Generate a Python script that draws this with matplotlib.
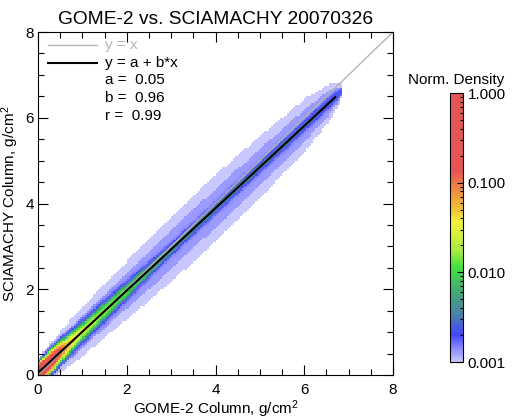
import numpy as np
import matplotlib
matplotlib.use("Agg")
import matplotlib.pyplot as plt
from matplotlib.colors import LinearSegmentedColormap, LogNorm

plt.rcParams['font.family'] = ['Liberation Sans', 'DejaVu Sans']

# fit parameters shown in the legend
fit_a = 0.05
fit_b = 0.96
fit_r = 0.99
fit_xmax = 6.7

# density along the fit line
prof_x = [0.0, 0.2, 0.4, 0.6, 0.8, 1.0, 1.5, 2.0, 2.5, 3.0, 3.5, 4.0, 5.0, 6.0, 6.6, 6.85]
core_peak = [1.0, 0.6, 0.25, 0.08, 0.04, 0.025, 0.015, 0.011, 0.006, 0.004, 0.003, 0.0028, 0.0025, 0.002, 0.0015, 0.001]
core_width = [0.07, 0.09, 0.1, 0.1, 0.1, 0.1, 0.1, 0.09, 0.08, 0.07, 0.07, 0.07, 0.07, 0.07, 0.07, 0.05]
# half-widths of the inner (denser) and outer (sparse) lavender cloud round the line
inner_hw = [0.2, 0.28, 0.32, 0.35, 0.38, 0.38, 0.4, 0.42, 0.45, 0.45, 0.45, 0.45, 0.42, 0.38, 0.28, 0.1]
outer_hw = [0.3, 0.4, 0.45, 0.5, 0.55, 0.58, 0.62, 0.68, 0.72, 0.75, 0.78, 0.78, 0.72, 0.62, 0.42, 0.15]
inner_level = 0.0013
outer_level = 0.001

bin_size = 0.05

# colour table (position on log scale, colour)
cmap_pos = [0.0, 0.1, 0.175, 0.25, 0.35, 0.42, 0.52, 0.58, 0.65, 0.71, 1.0]
cmap_col = ['#c8c8ff', '#4646ff', '#4a82a8', '#44a47c', '#44e044', '#b0ec40',
            '#f2f040', '#f2b834', '#f08444', '#e65454', '#e45656']

# build the 2D density grid
edges = np.arange(0, 8 + bin_size / 2, bin_size)
xc = (edges[:-1] + edges[1:]) / 2
X, Y = np.meshgrid(xc, xc)
d = np.abs(Y - (fit_a + fit_b * X))
pk = np.interp(X, prof_x, core_peak, right=0)
cw = np.interp(X, prof_x, core_width)
ihw = np.interp(X, prof_x, inner_hw, right=0)
ohw = np.interp(X, prof_x, outer_hw, right=0)
halo = np.where(d < ihw, inner_level, np.where(d < ohw, outer_level, 0))
dens = pk * np.exp(-0.5 * (d / cw) ** 2) + halo
dens = np.ma.masked_where(dens < 0.001, dens)

cmap = LinearSegmentedColormap.from_list('dens', list(zip(cmap_pos, cmap_col)))
norm = LogNorm(vmin=0.001, vmax=1.0)

fig = plt.figure(figsize=(5.15, 4.2), dpi=100)
ax = fig.add_axes([38 / 515, 45 / 420, 355 / 515, 343 / 420])

ax.pcolormesh(edges, edges, dens, cmap=cmap, norm=norm)
ax.plot([0, 8], [0, 8], color='#b4b4b4', lw=1.0)
xf = np.array([0, fit_xmax])
ax.plot(xf, fit_a + fit_b * xf, color='black', lw=1.5)

ax.set_xlim(0, 8)
ax.set_ylim(0, 8)
ax.set_xticks([0, 2, 4, 6, 8])
ax.set_yticks([0, 2, 4, 6, 8])
ax.set_xticks(np.arange(0, 8.01, 0.5), minor=True)
ax.set_yticks(np.arange(0, 8.01, 0.5), minor=True)
ax.tick_params(which='both', direction='in', top=True, right=True, labelsize=11, width=0.8)
ax.tick_params(which='major', length=7)
ax.tick_params(which='minor', length=4)
ax.tick_params(axis='x', which='major', pad=6)
ax.tick_params(axis='y', which='major', pad=3)
for s in ax.spines.values():
    s.set_linewidth(0.8)

ax.set_xlabel('GOME-2 Column, g/cm$\\mathregular{^2}$', fontsize=11, labelpad=1)
ax.set_ylabel('SCIAMACHY Column, g/cm$\\mathregular{^2}$', fontsize=11, labelpad=3)
ax.set_title('GOME-2 vs. SCIAMACHY 20070326', fontsize=13.8, pad=6)

# legend drawn by hand, like the original
ax.plot([0.028, 0.166], [0.962, 0.962], color='#b4b4b4', lw=1.0, transform=ax.transAxes)
ax.plot([0.028, 0.166], [0.910, 0.910], color='black', lw=1.5, transform=ax.transAxes)
rows = ['y = x', 'y = a + b*x', 'a =  %.2f' % fit_a, 'b =  %.2f' % fit_b, 'r =  %.2f' % fit_r]
for i, t in enumerate(rows):
    ax.text(0.189, 0.962 - i * 0.0515, t, transform=ax.transAxes, fontsize=11,
            va='center', ha='left', color='#b4b4b4' if i == 0 else 'black')

# colour bar
cax = fig.add_axes([450 / 515, 58 / 420, 13 / 515, 269 / 420])
sm = matplotlib.cm.ScalarMappable(norm=norm, cmap=cmap)
cb = fig.colorbar(sm, cax=cax)
cb.set_ticks([0.001, 0.01, 0.1, 1.0])
cb.set_ticklabels(['0.001', '0.010', '0.100', '1.000'])
cax.tick_params(which='both', direction='in', labelsize=11, width=0.8)
cax.tick_params(which='major', length=4)
cax.tick_params(which='minor', length=2)
cb.outline.set_linewidth(0.8)
fig.text(456 / 515, 1 - 80 / 420, 'Norm. Density', ha='center', va='center', fontsize=11)

fig.savefig('out.png', dpi=100)
